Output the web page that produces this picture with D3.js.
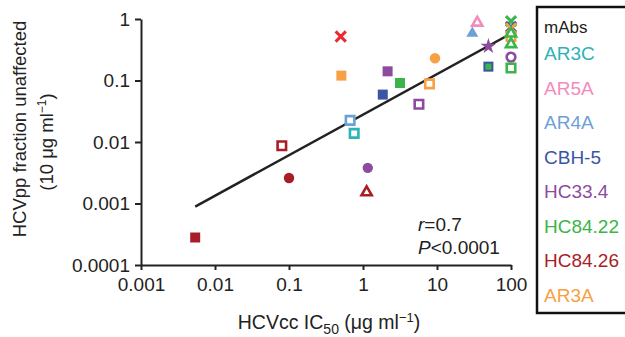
<!DOCTYPE html>
<html>
<head>
<meta charset="utf-8">
<script src="https://cdn.jsdelivr.net/npm/d3@7.9.0/dist/d3.min.js"></script>
<style>
  body { margin: 0; background: #fff; }
  svg { font-family: "Liberation Sans", Arial, sans-serif; }
</style>
</head>
<body>
<svg width="625" height="337"></svg>
<script>
// legend / colours
const mAbs = ['AR3C', 'AR5A', 'AR4A', 'CBH-5', 'HC33.4', 'HC84.22', 'HC84.26', 'AR3A'];
const mAbColors = ['#2bb3b8', '#f28cbc', '#6e9fd6', '#3a55a4', '#8c4b9f', '#3bb44a', '#a81e27', '#f7a044'];
const extraColor = '#ea2a2f'; // the lone red cross

// points: IC50 (x), fraction unaffected (y), mAb index (-1 = extra red), shape, filled
const ic50 =   [0.51, 2.15, 3.16, 1.85, 5.7, 0.67, 0.76, 0.080, 0.10, 1.16, 1.12, 0.0054, 0.50, 9.4, 7.9, 35, 30, 49.5, 49.5, 49.5, 100, 100, 100, 100, 100, 100, 100, 100, 100];
const frac =   [0.12, 0.141, 0.091, 0.059, 0.041, 0.0225, 0.0138, 0.0087, 0.0026, 0.0038, 0.00152, 0.00028, 0.52, 0.23, 0.088, 0.87, 0.585, 0.36, 0.168, 0.168, 0.92, 0.74, 0.70, 0.55, 0.52, 0.58, 0.39, 0.24, 0.16];
const mAbIdx = [7, 4, 5, 3, 4, 2, 0, 6, 6, 4, 6, 6, -1, 7, 7, 1, 2, 4, 3, 5, 5, 3, 7, 7, 7, 5, 5, 4, 5];
const shape =  ['square', 'square', 'square', 'square', 'square', 'square', 'square', 'square', 'circle', 'circle', 'triangle', 'square', 'x', 'circle', 'square', 'triangle', 'triangle', 'star', 'square', 'smallsquare', 'x', 'x', 'x', 'circle', 'square', 'triangle', 'triangle', 'circle', 'square'];
const filled = [true, true, true, true, false, false, false, false, true, true, false, true, true, true, false, false, true, true, true, true, true, true, true, true, false, false, false, false, false];

// regression line end points
const fitX = [0.0054, 100];
const fitY = [0.00089, 0.58];

const xTicks = [0.001, 0.01, 0.1, 1, 10, 100];
const yTicks = [0.0001, 0.001, 0.01, 0.1, 1];

const svg = d3.select('svg');

const x = d3.scaleLog().domain([0.001, 100]).range([141, 511]);
const y = d3.scaleLog().domain([0.0001, 1]).range([265, 19]);

// axes
const xAxis = svg.append('g')
  .attr('transform', 'translate(0,265)')
  .call(d3.axisBottom(x).tickValues(xTicks).tickFormat(d3.format('~g')).tickSize(5).tickSizeOuter(0));
const yAxis = svg.append('g')
  .attr('transform', 'translate(141,0)')
  .call(d3.axisLeft(y).tickValues(yTicks).tickFormat(d => d3.format('~f')(d)).tickSize(6).tickSizeOuter(0));

[xAxis, yAxis].forEach(a => {
  a.select('.domain').attr('stroke', '#222').attr('stroke-width', 2);
  a.selectAll('.tick line').attr('stroke', '#222').attr('stroke-width', 2);
  a.selectAll('.tick text').attr('font-size', 19).attr('fill', '#222')
    .attr('font-family', '"Liberation Sans", Arial, sans-serif');
});
xAxis.selectAll('.tick text').attr('dy', '0.95em');
yAxis.selectAll('.tick text').attr('x', -11);

// axis titles
svg.append('text')
  .attr('x', 329).attr('y', 329)
  .attr('text-anchor', 'middle').attr('font-size', 19.5).attr('fill', '#222')
  .html('HCVcc IC<tspan font-size="14" dy="5">50</tspan><tspan dy="-5"> (μg ml</tspan><tspan font-size="13" dy="-7">−1</tspan><tspan dy="7">)</tspan>');

svg.append('text')
  .attr('transform', 'translate(26,129) rotate(-90)')
  .attr('text-anchor', 'middle').attr('font-size', 18.5).attr('fill', '#222')
  .text('HCVpp fraction unaffected');
svg.append('text')
  .attr('transform', 'translate(53,142) rotate(-90)')
  .attr('text-anchor', 'middle').attr('font-size', 18.5).attr('fill', '#222')
  .html('(10 μg ml<tspan font-size="12" dy="-7">−1</tspan><tspan dy="7">)</tspan>');

// regression line
svg.append('line')
  .attr('x1', x(fitX[0])).attr('y1', y(fitY[0]))
  .attr('x2', x(fitX[1])).attr('y2', y(fitY[1]))
  .attr('stroke', '#222').attr('stroke-width', 2.5);

// markers
const symbolFor = {
  square: d3.symbol(d3.symbolSquare, 100),
  smallsquare: d3.symbol(d3.symbolSquare, 36),
  circle: d3.symbol(d3.symbolCircle, 85),
  triangle: d3.symbol(d3.symbolTriangle, 62),
  star: d3.symbol(d3.symbolStar, 75),
  x: d3.symbol(d3.symbolTimes, 70)
};

const points = ic50.map((v, i) => ({
  x: v, y: frac[i], shape: shape[i], filled: filled[i],
  color: mAbIdx[i] < 0 ? extraColor : mAbColors[mAbIdx[i]]
}));

svg.append('g').selectAll('path')
  .data(points)
  .join('path')
  .attr('transform', d => `translate(${x(d.x)},${y(d.y)})`)
  .attr('d', d => {
    let s = d.shape;
    if (!d.filled && s === 'square') return d3.symbol(d3.symbolSquare, 72)();
    if (!d.filled && s === 'circle') return d3.symbol(d3.symbolCircle, 60)();
    if (!d.filled && s === 'triangle') return d3.symbol(d3.symbolTriangle, 45)();
    return symbolFor[s]();
  })
  .attr('fill', d => d.shape === 'x' ? 'none' : (d.filled ? d.color : '#fff'))
  .attr('stroke', d => (d.shape === 'x' || !d.filled) ? d.color : 'none')
  .attr('stroke-width', d => d.shape === 'x' ? 3 : 2.6);

// stats text
svg.append('text').attr('x', 418).attr('y', 231).attr('font-size', 19).attr('fill', '#222')
  .html('<tspan font-style="italic">r</tspan>=0.7');
svg.append('text').attr('x', 418).attr('y', 254).attr('font-size', 19).attr('fill', '#222')
  .html('<tspan font-style="italic">P</tspan>&lt;0.0001');

// legend box
svg.append('rect')
  .attr('x', 537).attr('y', 7).attr('width', 100).attr('height', 306)
  .attr('fill', 'none').attr('stroke', '#111').attr('stroke-width', 2.5);

const legend = svg.append('g');
legend.append('text').attr('x', 544).attr('y', 33).attr('font-size', 17).attr('fill', '#222').text('mAbs');
legend.selectAll('.item')
  .data(mAbs)
  .join('text')
  .attr('class', 'item')
  .attr('x', 544)
  .attr('y', (d, i) => 60 + i * 34.5)
  .attr('font-size', 19)
  .attr('fill', (d, i) => mAbColors[i])
  .text(d => d);
</script>
</body>
</html>
